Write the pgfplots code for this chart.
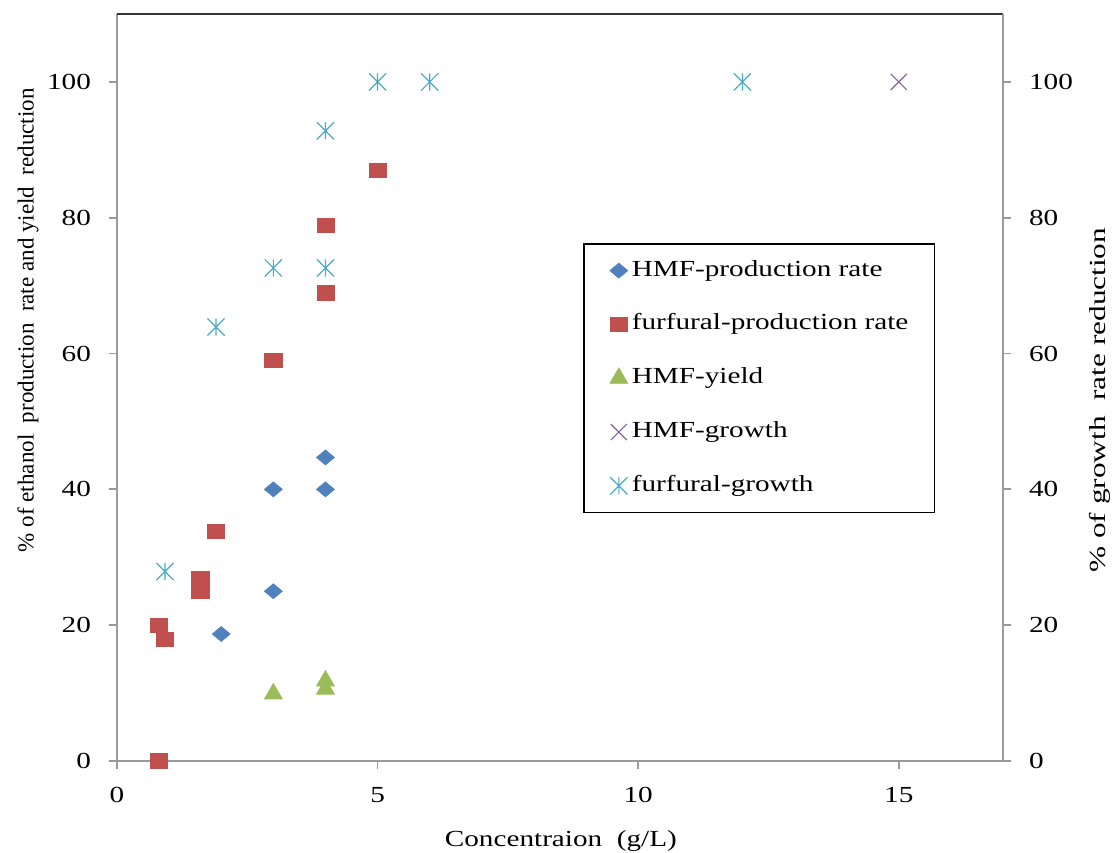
\documentclass[border=0pt]{standalone}
\usepackage{fontspec}
\setmainfont{Liberation Serif}
\newfontfamily\wide[FakeStretch=1.27]{Liberation Serif}
\newfontfamily\wider[FakeStretch=1.36]{Liberation Serif}
\usepackage{pgfplots}
\pgfplotsset{compat=1.18}
\definecolor{cblue}{HTML}{4F81BD}
\definecolor{cred}{HTML}{C0504D}
\definecolor{cgreen}{HTML}{9BBB59}
\definecolor{cpurple}{HTML}{8064A2}
\definecolor{ccyan}{HTML}{4BACC6}
\definecolor{axgray}{HTML}{9A9A9A}
\pgfdeclareplotmark{excelstar}{%
  \pgfpathmoveto{\pgfqpoint{0pt}{\pgfplotmarksize}}%
  \pgfpathlineto{\pgfqpoint{0pt}{-\pgfplotmarksize}}%
  \pgfpathmoveto{\pgfqpoint{\pgfplotmarksize}{\pgfplotmarksize}}%
  \pgfpathlineto{\pgfqpoint{-\pgfplotmarksize}{-\pgfplotmarksize}}%
  \pgfpathmoveto{\pgfqpoint{-\pgfplotmarksize}{\pgfplotmarksize}}%
  \pgfpathlineto{\pgfqpoint{\pgfplotmarksize}{-\pgfplotmarksize}}%
  \pgfusepathqstroke}
\pgfdeclareplotmark{excelx}{%
  \pgfpathmoveto{\pgfqpoint{\pgfplotmarksize}{\pgfplotmarksize}}%
  \pgfpathlineto{\pgfqpoint{-\pgfplotmarksize}{-\pgfplotmarksize}}%
  \pgfpathmoveto{\pgfqpoint{-\pgfplotmarksize}{\pgfplotmarksize}}%
  \pgfpathlineto{\pgfqpoint{\pgfplotmarksize}{-\pgfplotmarksize}}%
  \pgfusepathqstroke}
\pgfplotsset{compactlegend/.style={legend image code/.code={%
  \draw[mark repeat=2,mark phase=2,##1] plot coordinates {(0pt,0pt) (0pt,0pt) (0pt,0pt)};}}}
\begin{document}
\begin{tikzpicture}
\useasboundingbox (-58.5pt,-45.5pt) rectangle (500pt,380.5pt);
\begin{axis}[
  at={(0pt,0pt)}, anchor=south west,
  scale only axis, width=443pt, height=373.5pt,
  xmin=0, xmax=17, ymin=0, ymax=110,
  xtick={0,5,10,15}, ytick={0,20,40,60,80,100},
  axis x line*=bottom, axis y line*=left,
  axis line style={axgray, line width=0.9pt, -},
  tick align=outside, major tick length=4pt,
  tick style={axgray, line width=0.9pt},
  /pgf/number format/assume math mode=true,
  tick label style={font=\wide\fontsize{11.5}{13}\selectfont},
  xticklabel style={yshift=-5.5pt},
  yticklabel style={xshift=-5.5pt},
  label style={font=\fontsize{11.5}{13}\selectfont},
  xlabel={\wide Concentraion\ \ (g/L)},
  ylabel={\% of ethanol\ \ production\ \ rate and yield\ \ reduction},
  xlabel style={at={(axis description cs:0.501,-0.107)}, anchor=center},
  ylabel style={at={(axis description cs:-0.1005,0.59)}, anchor=center},
  clip=false,
  legend cell align=left,
  legend style={at={(axis description cs:0.526,0.693)}, anchor=north west,
    draw=black, line width=0.8pt, inner xsep=13pt, inner ysep=8pt,
    row sep=16.4pt, font=\wide\fontsize{11.5}{13}\selectfont,
    nodes={inner sep=0pt, text height=8pt, text depth=2.5pt},
    /tikz/every odd column/.append style={column sep=2pt}},
]
\addplot[only marks, compactlegend, mark=diamond*, mark size=3.75pt,
  mark options={xscale=1.6, fill=cblue, draw=cblue, line width=0.3pt}]
  coordinates {(2,18.7) (3,25) (3,40) (4,40) (4,44.7)};
\addlegendentry{HMF-production rate}
\addplot[only marks, compactlegend, mark=square*, mark size=4.3pt,
  mark options={yscale=0.85, fill=cred, draw=cred, line width=0.3pt}]
  coordinates {(0.8,0) (0.8,20) (0.92,17.9) (1.6,25.1) (1.6,26.9) (1.9,33.8)
               (3,59) (4,68.9) (4,78.9) (5,87)};
\addlegendentry{furfural-production rate}
\addplot[only marks, compactlegend, mark=triangle*, mark size=5.2pt,
  mark options={fill=cgreen, draw=cgreen, line width=0.3pt}]
  coordinates {(3,9.9) (4,10.6) (4,11.8)};
\addlegendentry{HMF-yield}
\addplot[only marks, compactlegend, mark=excelx, mark size=4pt,
  mark options={draw=cpurple, line width=0.6pt}]
  coordinates {(15,100)};
\addlegendentry{HMF-growth}
\addplot[only marks, compactlegend, mark=excelstar, mark size=4.3pt,
  mark options={draw=ccyan, line width=0.6pt}]
  coordinates {(0.92,27.9) (1.9,63.9) (3,72.6) (4,72.6) (4,92.8)
               (5,100) (6,100) (12,100)};
\addlegendentry{furfural-growth}
\draw[black!80, line width=1pt] (rel axis cs:0,1) -- (rel axis cs:1,1);
\end{axis}
\begin{axis}[
  at={(0pt,0pt)}, anchor=south west,
  scale only axis, width=443pt, height=373.5pt,
  xmin=0, xmax=17, ymin=0, ymax=110,
  ytick={0,20,40,60,80,100},
  axis x line=none, axis y line*=right,
  axis line style={axgray, line width=0.9pt, -},
  tick align=outside, major tick length=4pt,
  tick style={axgray, line width=0.9pt},
  /pgf/number format/assume math mode=true,
  tick label style={font=\wide\fontsize{11.5}{13}\selectfont},
  yticklabel style={xshift=5.5pt},
  label style={font=\wider\fontsize{11.5}{13}\selectfont},
  ylabel={\% of growth\ \ rate reduction},
  ylabel style={at={(axis description cs:1.1095,0.483)}, anchor=center},
]
\end{axis}
\end{tikzpicture}
\end{document}
